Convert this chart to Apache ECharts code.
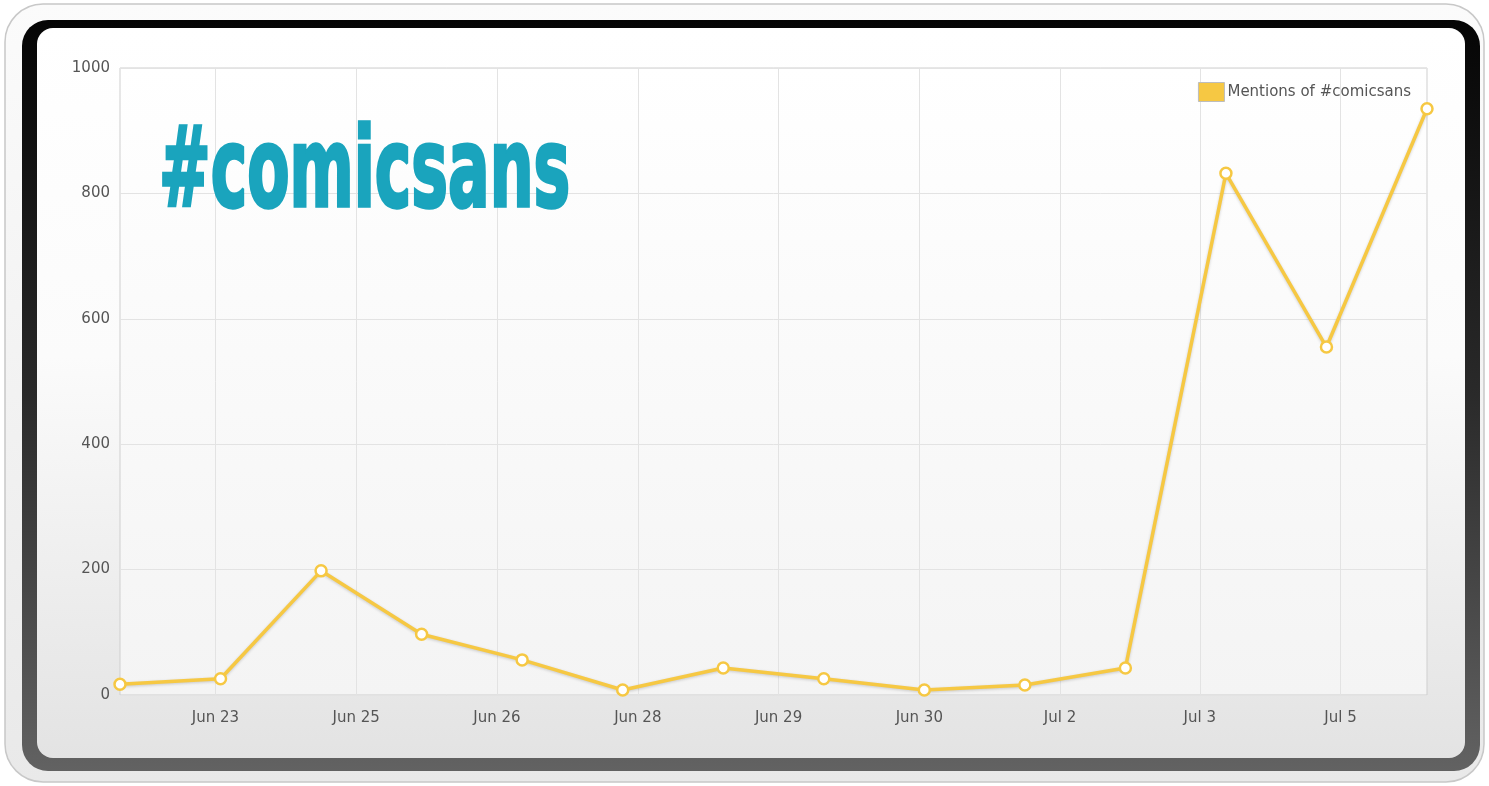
<!DOCTYPE html>
<html>
<head>
<meta charset="utf-8">
<script src="https://cdn.jsdelivr.net/npm/echarts@6/dist/echarts.min.js"></script>
<style>
html,body{margin:0;padding:0;background:#ffffff;}
#chart{width:1489px;height:786px;}
</style>
</head>
<body>
<div id="chart"></div>
<script>
// ---- data ----
var seriesName = 'Mentions of #comicsans';
var pointIndex = [0,1,2,3,4,5,6,7,8,9,10,11,12,13];
var mentions = [17, 26, 198, 97, 56, 8, 43, 26, 8, 16, 43, 832, 555, 935];
var xTickPositions = [0.95, 2.35, 3.75, 5.15, 6.55, 7.95, 9.35, 10.74, 12.14];
var xTickLabels = ['Jun 23','Jun 25','Jun 26','Jun 28','Jun 29','Jun 30','Jul 2','Jul 3','Jul 5'];
var yTicks = [0, 200, 400, 600, 800, 1000];
var titleText = '#comicsans';

var chart = echarts.init(document.getElementById('chart'));
var seriesData = pointIndex.map(function(x, i){ return [x, mentions[i]]; });
var labelFont = '"DejaVu Sans", "Open Sans", sans-serif';

var option = {
  animation: false,
  backgroundColor: '#ffffff',
  graphic: [
    { type: 'rect', z: -10, silent: true,
      shape: { x: 5, y: 4, width: 1479, height: 778, r: 38 },
      style: { fill: new echarts.graphic.LinearGradient(0,0,0,1,[{offset:0,color:'#fbfbfb'},{offset:1,color:'#e9e9e9'}]), stroke: '#c8c8c8', lineWidth: 1.5 } },
    { type: 'rect', z: -9, silent: true,
      shape: { x: 22, y: 20, width: 1458, height: 751, r: 26 },
      style: { fill: new echarts.graphic.LinearGradient(0,0,0,1,[{offset:0,color:'#050505'},{offset:0.5,color:'#2a2a2a'},{offset:1,color:'#626262'}]) } },
    { type: 'rect', z: -8, silent: true,
      shape: { x: 37, y: 28, width: 1428, height: 730, r: 16 },
      style: { fill: new echarts.graphic.LinearGradient(0,0,0,1,[{offset:0,color:'#ffffff'},{offset:0.45,color:'#fbfbfb'},{offset:1,color:'#e3e3e3'}]) } },
    { type: 'text', z: 50, silent: true,
      x: 159, y: 122, scaleX: 0.685, scaleY: 1.11,
      style: { text: titleText, fill: '#1aa4bd', stroke: '#1aa4bd', lineWidth: 3,
               font: 'bold 100px "DejaVu Sans Condensed", "DejaVu Sans", sans-serif' } }
  ],
  grid: {
    left: 120, right: 62, top: 68, bottom: 91,
    show: true,
    borderColor: '#cfcfcf', borderWidth: 1,
    backgroundColor: new echarts.graphic.LinearGradient(0,0,0,1,[{offset:0,color:'#ffffff'},{offset:1,color:'#f4f4f4'}])
  },
  legend: {
    show: true,
    data: [seriesName],
    right: 73, top: 77,
    itemWidth: 26, itemHeight: 19, itemGap: 6,
    icon: 'rect',
    itemStyle: { color: '#f6c843', borderColor: '#bdbdbd', borderWidth: 1 },
    textStyle: { color: '#555555', fontSize: 15, fontFamily: labelFont, padding: [0,0,0,-2] }
  },
  xAxis: {
    type: 'value', min: 0, max: 13,
    axisLine: { show: false },
    axisTick: { show: false, customValues: xTickPositions },
    splitLine: { show: true, lineStyle: { color: '#e3e3e3', width: 1 } },
    axisLabel: {
      customValues: xTickPositions,
      color: '#555555', fontSize: 15, margin: 16,
      fontFamily: labelFont,
      formatter: function(v){
        for (var i = 0; i < xTickPositions.length; i++) {
          if (Math.abs(xTickPositions[i] - v) < 1e-6) return xTickLabels[i];
        }
        return '';
      }
    }
  },
  yAxis: {
    type: 'value', min: yTicks[0], max: yTicks[yTicks.length-1], interval: 200,
    axisLine: { show: false }, axisTick: { show: false },
    splitLine: { show: true, lineStyle: { color: '#e3e3e3', width: 1 } },
    axisLabel: { color: '#555555', fontSize: 15, margin: 10, fontFamily: labelFont,
      formatter: function(v){ return String(v); } }
  },
  series: [{
    name: seriesName,
    type: 'line',
    data: seriesData,
    symbol: 'circle', symbolSize: 11,
    lineStyle: { color: '#f6c843', width: 3.5, shadowColor: 'rgba(0,0,0,0.18)', shadowBlur: 3, shadowOffsetY: 1 },
    itemStyle: { color: '#ffffff', borderColor: '#f6c843', borderWidth: 2.5 },
    z: 5
  }]
};
chart.setOption(option);
</script>
</body>
</html>
